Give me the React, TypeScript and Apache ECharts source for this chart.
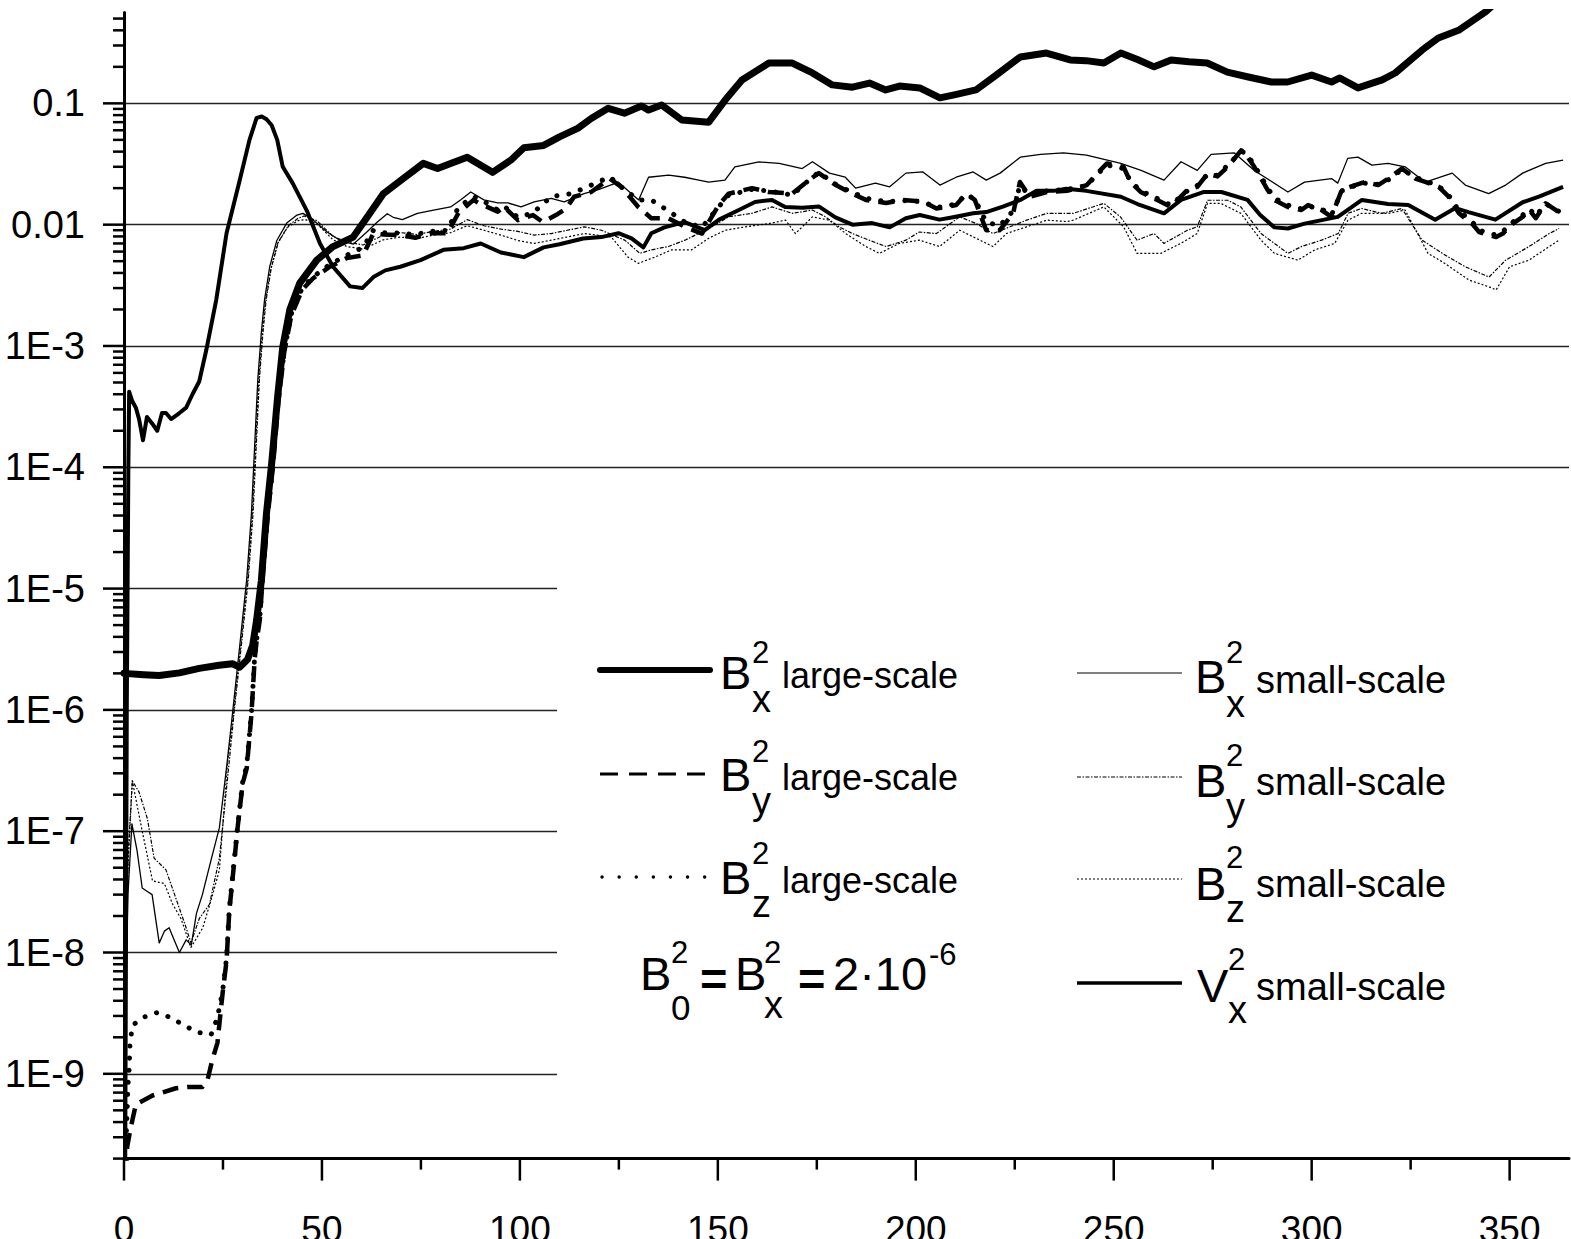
import React, { useEffect, useRef } from 'react';
import * as echarts from 'echarts';

const FONT = 'Liberation Sans, Arial, sans-serif';
const X_MAX = 365;
const Y_MIN = 2e-10;
const Y_MAX = 0.56;

const xMajorTicks = [0, 50, 100, 150, 200, 250, 300, 350];
const xMinorTicks = [25, 75, 125, 175, 225, 275, 325];
const yMajorTicks = [1e-9, 1e-8, 1e-7, 1e-6, 1e-5, 1e-4, 1e-3, 1e-2, 1e-1];
const yMinorMultiples = [2, 3, 4, 5, 6, 7, 8, 9];
const yDecades = [1e-10, 1e-9, 1e-8, 1e-7, 1e-6, 1e-5, 1e-4, 1e-3, 1e-2, 1e-1];
const yLabelText: Record<string, string> = { '-1': '0.1', '-2': '0.01' };

const bxLarge = [
  [0, 2.0e-6], [5, 1.95e-6], [8.9, 1.92e-6], [14, 2.02e-6], [19, 2.2e-6], [24, 2.33e-6], [27.4, 2.4e-6],
  [29.2, 2.25e-6], [31.2, 2.6e-6], [32.5, 3.4e-6], [33.5, 5.5e-6], [34.7, 1.17e-5], [36, 4.2e-5],
  [37.3, 1.07e-4], [38.8, 3.8e-4], [40.1, 9.8e-4], [41.9, 2.0e-3], [44.4, 3.3e-3], [48.7, 5.1e-3],
  [52.8, 6.6e-3], [57.9, 7.9e-3], [61.4, 0.0115], [65.5, 0.018], [69.8, 0.023], [75.6, 0.032],
  [79.2, 0.029], [82.5, 0.032], [86.7, 0.036], [90, 0.031], [93.1, 0.027], [97.7, 0.034], [101, 0.043],
  [106, 0.045], [110, 0.053], [114.7, 0.0625], [118, 0.075], [122.3, 0.091], [126.4, 0.083],
  [130.7, 0.095], [132.5, 0.088], [135.8, 0.097], [140.9, 0.073], [147.7, 0.07], [151.8, 0.106],
  [156.1, 0.156], [162.9, 0.215], [168.8, 0.215], [173.9, 0.178], [178.9, 0.142], [184, 0.136],
  [188.3, 0.147], [192.4, 0.129], [195.9, 0.139], [201, 0.134], [206.1, 0.111], [210, 0.118],
  [215.2, 0.129], [220.3, 0.171], [226.4, 0.241], [233, 0.26], [239, 0.228], [243, 0.225],
  [247.5, 0.215], [251.8, 0.26], [256, 0.23], [260.2, 0.2], [264.5, 0.228], [269, 0.22], [273.6, 0.215],
  [278.7, 0.181], [284, 0.165], [289.8, 0.15], [293.9, 0.15], [300, 0.171], [305, 0.15], [307.1, 0.162],
  [311.7, 0.134], [317.8, 0.156], [321.1, 0.178], [327.9, 0.275], [332, 0.346], [337.1, 0.4],
  [343.9, 0.567], [347, 0.7]
];

const byLarge = [
  [0.5, 1.5e-10], [0.8, 2.5e-10], [1.7, 3.6e-10], [3, 5.6e-10], [7.1, 6.6e-10], [13.1, 7.6e-10], [16, 7.8e-10],
  [19.8, 7.8e-10], [21.1, 8.9e-10], [22.3, 1.3e-9], [23.6, 1.8e-9], [24.9, 4.6e-9], [25.9, 8.5e-9],
  [26.6, 2.2e-8], [27.9, 5.8e-8], [28.7, 1.07e-7], [30, 2.5e-7], [31, 3.3e-7], [32.2, 9.3e-7],
  [33, 2.6e-6], [33.5, 3.7e-6], [34.3, 5.5e-6], [35, 1.2e-5], [36.3, 4e-5], [37.6, 1e-4], [39, 3.5e-4],
  [40.5, 9e-4], [42.3, 1.8e-3], [45, 2.9e-3], [47.7, 3.6e-3], [52, 4.5e-3], [56.3, 5.3e-3],
  [60.4, 5.6e-3], [63, 8.5e-3], [65.5, 8.3e-3], [69.8, 8.2e-3], [73.6, 7.8e-3], [77.4, 8.5e-3],
  [81.7, 8.5e-3], [84.5, 0.0125], [88.3, 0.016], [89.7, 0.015], [94.4, 0.0128], [96, 0.014],
  [99.5, 0.0109], [103.3, 0.012], [105.8, 0.0105], [109.1, 0.012], [111.7, 0.0136], [113.7, 0.017],
  [118, 0.0186], [122.7, 0.024], [125.6, 0.0205], [129.9, 0.014], [133.2, 0.0113], [137.5, 0.0113],
  [141.7, 0.0096], [146, 0.00845], [150.2, 0.0145], [152.7, 0.018], [158.6, 0.02], [162.9, 0.0186],
  [168.8, 0.018], [173, 0.0233], [175.5, 0.0266], [179.8, 0.0212], [183.1, 0.0186], [187.4, 0.016],
  [192.5, 0.0151], [196.7, 0.016], [201.8, 0.0155], [205.2, 0.0136], [210.2, 0.0145], [212.7, 0.018],
  [214.9, 0.016], [217.8, 0.009], [221.2, 0.009], [224.6, 0.0124], [226.3, 0.0225], [228.8, 0.017],
  [233.1, 0.0186], [238.2, 0.019], [243.2, 0.0212], [245.8, 0.0264], [248.3, 0.032], [252.5, 0.0299],
  [254.2, 0.0225], [256.8, 0.0186], [259.3, 0.017], [264.4, 0.014], [268.6, 0.0193], [271.1, 0.0205],
  [273.7, 0.0264], [276.2, 0.025], [278.8, 0.03], [282.2, 0.041], [283.4, 0.038], [285.5, 0.03],
  [288.9, 0.0193], [290.6, 0.016], [294, 0.014], [297.4, 0.0132], [299.1, 0.0145], [302.5, 0.0132],
  [305, 0.0116], [307.6, 0.0193], [311, 0.0212], [313.5, 0.0225], [316.8, 0.0212], [319.4, 0.024],
  [322.8, 0.029], [326.2, 0.024], [328.7, 0.0225], [332.1, 0.0205], [334.6, 0.017], [337.2, 0.0124],
  [340.5, 0.0102], [342.3, 0.0087], [346.6, 0.0079], [348.3, 0.00845], [350.8, 0.0102], [353.3, 0.0116],
  [355, 0.0132], [356.6, 0.0113], [359.1, 0.015], [361.7, 0.0132], [362.5, 0.0124]
];

const bzLarge = [
  [0.5, 2.7e-10], [0.8, 5e-10], [1.0, 8e-10], [1.3, 1.1e-9], [1.5, 1.7e-9], [2.1, 2.5e-9], [4.6, 2.9e-9],
  [8.4, 3.2e-9], [11.9, 2.9e-9], [15.2, 2.5e-9], [18.5, 2.2e-9], [22, 2.1e-9], [23.6, 2.9e-9],
  [24.9, 4.8e-9], [25.9, 9e-9], [26.6, 2.3e-8], [27.9, 6e-8], [28.7, 1.1e-7], [30, 2.6e-7],
  [31, 3.5e-7], [32.2, 9.6e-7], [33, 2.7e-6], [33.5, 3.8e-6], [34.3, 5.7e-6], [35, 1.25e-5],
  [36.3, 4.1e-5], [37.6, 1.05e-4], [39, 3.6e-4], [40.5, 9.2e-4], [42.3, 1.85e-3], [45, 3.0e-3],
  [47.7, 3.7e-3], [52, 4.7e-3], [56.3, 5.6e-3], [60.4, 6.5e-3], [63, 9e-3], [65.5, 8.6e-3],
  [69.8, 8.5e-3], [73.6, 8.3e-3], [77.4, 8.8e-3], [81.7, 9e-3], [84.5, 0.014], [88.3, 0.017],
  [91, 0.0155], [94.4, 0.0132], [96, 0.0142], [99.5, 0.0115], [103.3, 0.0125], [107.9, 0.017],
  [112.9, 0.018], [116.3, 0.02], [122.7, 0.0248], [125.6, 0.0205], [129.9, 0.016], [133.2, 0.016],
  [137.5, 0.013], [141.7, 0.0105], [146, 0.0095], [150.2, 0.014], [152.7, 0.0175], [158.6, 0.0195],
  [162.9, 0.019], [168.8, 0.0175], [173, 0.0233], [175.5, 0.027], [179.8, 0.0215], [183.1, 0.019],
  [187.4, 0.0165], [192.5, 0.0155], [196.7, 0.0158], [201.8, 0.0155], [205.2, 0.0138], [210.2, 0.0148],
  [212.7, 0.0178], [214.9, 0.0162], [217.8, 0.0105], [221.2, 0.0098], [224.6, 0.013], [226.3, 0.021],
  [228.8, 0.0175], [233.1, 0.019], [238.2, 0.0195], [243.2, 0.021], [245.8, 0.026], [248.3, 0.031],
  [252.5, 0.029], [254.2, 0.023], [256.8, 0.019], [259.3, 0.0175], [264.4, 0.0145], [268.6, 0.019],
  [271.1, 0.021], [273.7, 0.026], [276.2, 0.0255], [278.8, 0.031], [282.2, 0.04], [283.4, 0.039],
  [285.5, 0.031], [288.9, 0.02], [290.6, 0.0165], [294, 0.0145], [297.4, 0.0135], [299.1, 0.0142],
  [302.5, 0.0135], [305, 0.012], [307.6, 0.019], [311, 0.021], [313.5, 0.022], [316.8, 0.0215],
  [319.4, 0.0235], [322.8, 0.0285], [326.2, 0.0245], [328.7, 0.023], [332.1, 0.0208], [334.6, 0.0175],
  [337.2, 0.013], [340.5, 0.0106], [342.3, 0.009], [346.6, 0.0082], [348.3, 0.0088], [350.8, 0.0105],
  [353.3, 0.012], [355, 0.0135], [356.6, 0.0118], [359.1, 0.0148], [361.7, 0.0135], [362.5, 0.0128]
];

const bxSmall = [
  [0.3, 3e-9], [1, 3e-8], [2, 1.15e-7], [3.3, 6.9e-8], [4.6, 3.4e-8], [5.8, 3.2e-8], [7.1, 3.0e-8],
  [8.1, 1.8e-8], [8.9, 1.2e-8], [10.2, 1.5e-8], [11.4, 1.6e-8], [12.7, 1.26e-8], [14, 1.0e-8],
  [15.7, 1.27e-8], [17, 1.15e-8], [18.3, 2.1e-8], [19.8, 3.0e-8], [22, 5.8e-8], [24.1, 1.07e-7],
  [26.1, 3.8e-7], [27.4, 9.3e-7], [29.2, 3.3e-6], [31, 1.2e-5], [32.2, 4.2e-5], [33, 1.5e-4],
  [33.8, 5.3e-4], [34.7, 1.3e-3], [35.5, 2.4e-3], [36.8, 4.5e-3], [38.6, 7.4e-3], [41.1, 0.0103],
  [43.7, 0.012], [45.2, 0.0124], [47.7, 0.011], [51.3, 8.7e-3], [54.6, 7.4e-3], [57.9, 6.9e-3],
  [61, 8.5e-3], [64, 0.0105], [66.5, 0.0123], [68, 0.0115], [70.3, 0.011], [74.1, 0.0124],
  [78.2, 0.0132], [82.5, 0.014], [85, 0.016], [87.6, 0.0186], [90.9, 0.016], [94.4, 0.0151],
  [97, 0.0151], [100.3, 0.014], [103.6, 0.0154], [107.9, 0.0165], [111.2, 0.0154], [116.2, 0.018],
  [120, 0.0195], [124.9, 0.0224], [130, 0.016], [132.5, 0.0246], [137.6, 0.0256], [141.6, 0.0246],
  [145.2, 0.0233], [147.7, 0.0224], [151.8, 0.0233], [154.3, 0.03], [160.4, 0.0329], [165.5, 0.032],
  [171.3, 0.029], [173.9, 0.033], [178.2, 0.0266], [182.2, 0.0246], [184.8, 0.02], [189.8, 0.022],
  [193.4, 0.0205], [197.5, 0.0266], [201.8, 0.0272], [206.1, 0.0212], [210.2, 0.0246], [214.5, 0.0272],
  [217.8, 0.0233], [221.3, 0.0266], [226.4, 0.036], [231.5, 0.038], [237.3, 0.039], [243.1, 0.0375],
  [251.8, 0.032], [256.9, 0.028], [262.7, 0.0233], [267, 0.033], [271.1, 0.028], [274.6, 0.038],
  [280.5, 0.039], [285.5, 0.028], [294, 0.0186], [298.2, 0.0224], [305, 0.024], [306.6, 0.022],
  [309.1, 0.0352], [311.7, 0.036], [315.2, 0.031], [319.3, 0.032], [323.6, 0.03], [328.7, 0.0224],
  [335.5, 0.0266], [338.8, 0.0212], [344.7, 0.018], [349, 0.0212], [353.3, 0.0266], [359.1, 0.032],
  [363.5, 0.034]
];

const bySmall = [
  [0.3, 3e-9], [1, 6e-8], [2.1, 2.6e-7], [3.8, 2.1e-7], [5.9, 1.27e-7], [7.6, 6.0e-8], [10.6, 4.8e-8],
  [13.1, 2.8e-8], [15.7, 1.6e-8], [16.9, 1.2e-8], [19, 1.9e-8], [21.6, 2.5e-8], [24.1, 6e-8],
  [26.6, 3.8e-7], [27.8, 9.5e-7], [29.6, 3.3e-6], [31.4, 1.2e-5], [32.6, 4.2e-5], [33.4, 1.5e-4],
  [34.2, 5.3e-4], [35.1, 1.3e-3], [35.9, 2.4e-3], [37.2, 4.4e-3], [39, 7.2e-3], [41.5, 0.0098],
  [44, 0.0113], [45.5, 0.0118], [48.7, 0.0108], [52.8, 0.008], [56.3, 0.0072], [60.4, 0.0068],
  [65.5, 0.0082], [69.8, 0.0086], [74, 0.0083], [78.2, 0.0088], [82.5, 0.0092], [86.7, 0.011],
  [90.9, 0.0098], [95.2, 0.0092], [99.5, 0.0088], [103.6, 0.0082], [107.9, 0.00845], [116.3, 0.0096],
  [120.6, 0.009], [126.5, 0.00745], [130.3, 0.0058], [133.2, 0.0062], [137.5, 0.0066], [141.7, 0.00745],
  [145.1, 0.00845], [148.5, 0.0096], [152.7, 0.0116], [158.6, 0.0124], [163.7, 0.014], [168.8, 0.0124],
  [173.9, 0.0132], [177.2, 0.0116], [180.6, 0.0096], [184, 0.00845], [188.2, 0.00745], [192.5, 0.0066],
  [197.5, 0.00745], [200.9, 0.0087], [205.2, 0.00845], [211.1, 0.0116], [215.3, 0.0102], [219.5, 0.00845],
  [223.8, 0.0096], [228, 0.0109], [233.1, 0.0124], [239.8, 0.0124], [247.5, 0.015], [251.7, 0.0116],
  [255.9, 0.00745], [260.2, 0.00845], [262.7, 0.007], [268.6, 0.009], [271.1, 0.0096], [273.7, 0.0159],
  [278.8, 0.0159], [282.1, 0.014], [287.2, 0.00845], [294, 0.0058], [297.4, 0.0066], [302.5, 0.00745],
  [306.7, 0.00845], [309.2, 0.0124], [312.6, 0.0136], [317.7, 0.0124], [322.8, 0.0136], [327.9, 0.00745],
  [333, 0.0058], [338.8, 0.0045], [344.8, 0.0037], [349, 0.0051], [354.9, 0.0066], [360, 0.00845],
  [362.5, 0.0093]
];

const bzSmall = [
  [0.3, 2e-9], [1, 5e-8], [2.1, 2.6e-7], [4.6, 1.0e-7], [7.2, 3.9e-8], [10.2, 3.7e-8], [12.3, 2.5e-8],
  [14.4, 1.9e-8], [16.9, 1.1e-8], [19.9, 1.6e-8], [22.4, 3.0e-8], [24.1, 4.8e-8], [26.2, 3.8e-7],
  [27.6, 9.0e-7], [29.4, 3.2e-6], [31.2, 1.15e-5], [32.4, 4.0e-5], [33.2, 1.4e-4], [34, 5.0e-4],
  [34.9, 1.2e-3], [35.7, 2.3e-3], [37, 4.2e-3], [38.8, 7.0e-3], [41.3, 0.0095], [44, 0.0108],
  [45.8, 0.011], [48.7, 0.0102], [52.8, 0.0075], [56.3, 0.0066], [60.4, 0.0063], [65.5, 0.0075],
  [69.8, 0.0079], [74, 0.0077], [78.2, 0.0082], [82.5, 0.0086], [86.7, 0.0098], [90.9, 0.009],
  [95.2, 0.0082], [99.5, 0.0074], [103.6, 0.007], [107.9, 0.00745], [116.3, 0.00845], [123.1, 0.0079],
  [127.3, 0.0054], [129.9, 0.0048], [134.1, 0.0054], [138.3, 0.0062], [143.4, 0.0062], [147.6, 0.0077],
  [151.9, 0.009], [157, 0.0096], [162.9, 0.0102], [167.1, 0.0109], [169.6, 0.00845], [173.9, 0.0116],
  [178.1, 0.0109], [182.3, 0.00845], [187.4, 0.0066], [190.8, 0.0058], [195.8, 0.007], [200.9, 0.00745],
  [206, 0.0066], [211.1, 0.009], [216.2, 0.00745], [219.5, 0.0066], [222.9, 0.00845], [228, 0.0096],
  [233.1, 0.0109], [238.2, 0.0106], [239.8, 0.0109], [247.5, 0.014], [252.5, 0.0096], [255.9, 0.0058],
  [261.9, 0.0058], [266.9, 0.007], [271.1, 0.00845], [273.7, 0.015], [277, 0.015], [282.1, 0.0124],
  [287.2, 0.00745], [290.6, 0.0058], [296.5, 0.0051], [300.8, 0.0062], [305.8, 0.007], [309.2, 0.0109],
  [312.6, 0.0124], [319.4, 0.0124], [323.6, 0.0132], [329.4, 0.0058], [333.6, 0.0048], [339.7, 0.0035],
  [344.8, 0.00307], [346.6, 0.0029], [350, 0.0045], [354.9, 0.0051], [360, 0.0066], [362.5, 0.00745]
];

const vxSmall = [
  [0.3, 1.5e-10], [0.7, 1e-6], [1.1, 1e-4], [1.3, 4.2e-4], [2.1, 3.5e-4], [3.0, 3.1e-4], [3.8, 2.5e-4],
  [4.8, 1.67e-4], [5.8, 2.6e-4], [7.1, 2.3e-4], [8.4, 2.0e-4], [9.6, 2.8e-4], [10.6, 2.8e-4],
  [11.9, 2.5e-4], [14, 2.8e-4], [15.7, 3.1e-4], [17.3, 4.0e-4], [19, 5.1e-4], [20.8, 9.3e-4],
  [23.3, 2.4e-3], [25.9, 8.5e-3], [29.2, 0.023], [31.7, 0.05], [33.5, 0.076], [34.8, 0.078],
  [36, 0.074], [37.3, 0.066], [38.7, 0.05], [40.1, 0.03], [42.6, 0.022], [46.2, 0.013], [49.5, 7.0e-3],
  [52.8, 4.5e-3], [57.1, 3.1e-3], [60.2, 3.0e-3], [63, 3.7e-3], [66, 4.2e-3], [69.8, 4.5e-3],
  [74.9, 5.1e-3], [80.7, 6.2e-3], [85.8, 6.4e-3], [90.1, 7.0e-3], [95.2, 5.9e-3], [101, 5.4e-3],
  [106, 6.5e-3], [110, 6.9e-3], [116, 7.7e-3], [120.6, 7.9e-3], [124.9, 8.5e-3], [128.2, 7.7e-3],
  [131.2, 6.5e-3], [133.2, 8.5e-3], [136.5, 9.5e-3], [141.6, 0.0105], [146.7, 9.0e-3], [150.3, 0.011],
  [155.3, 0.0132], [159.4, 0.0154], [163.7, 0.016], [167, 0.014], [171.3, 0.0138], [175.6, 0.0141],
  [179.7, 0.0115], [184, 0.01], [189, 0.0103], [193.4, 9.5e-3], [197.5, 0.0113], [201, 0.012],
  [206, 0.011], [209.4, 0.0115], [214.5, 0.0124], [217.8, 0.0127], [222, 0.0141], [226.4, 0.016],
  [230.5, 0.019], [234.8, 0.019], [238, 0.0198], [243.1, 0.019], [251.8, 0.017], [256, 0.0148],
  [262.7, 0.0124], [267, 0.016], [272.8, 0.0186], [277.2, 0.0186], [283.8, 0.016], [287, 0.012],
  [290.6, 9.5e-3], [294, 9.3e-3], [298.2, 0.0102], [306.6, 0.0116], [312.7, 0.016], [319.3, 0.0148],
  [324.4, 0.0145], [331.2, 0.011], [336.3, 0.0137], [339.6, 0.0127], [346.4, 0.011], [353.3, 0.0153],
  [357.4, 0.017], [363.5, 0.0205]
];

function buildTickData() {
  const xt: number[][] = [];
  xMajorTicks.forEach((v) => xt.push([v, Y_MIN, 22]));
  xMinorTicks.forEach((v) => xt.push([v, Y_MIN, 11]));
  const yt: number[][] = [];
  yMajorTicks.forEach((v) => yt.push([0, v, 21]));
  yDecades.forEach((d) => {
    yMinorMultiples.forEach((m) => {
      const v = d * m;
      if (v >= Y_MIN * 0.999 && v <= Y_MAX) yt.push([0, v, 11]);
    });
  });
  return { xt, yt };
}

function txt(text: string, x: number, baseline: number, size: number, weight = 'normal') {
  return {
    type: 'text',
    x,
    y: baseline - 0.35 * size,
    z: 10,
    silent: true,
    style: {
      text,
      fill: '#000',
      font: `${weight} ${size}px ${FONT}`,
      fontSize: size,
      fontFamily: FONT,
      fontWeight: weight,
      align: 'left',
      verticalAlign: 'middle',
    },
  };
}

function seg(x1: number, x2: number, y: number, width: number, dash: any, cap = 'butt') {
  return {
    type: 'line',
    z: 10,
    silent: true,
    shape: { x1, y1: y, x2, y2: y },
    style: { stroke: '#000', lineWidth: width, lineDash: dash, lineCap: cap },
  };
}

export default function App() {
  const ref = useRef<HTMLDivElement>(null);
  useEffect(() => {
    const chart = echarts.init(ref.current!, undefined, { renderer: 'svg' });
    const { xt, yt } = buildTickData();

    const tickSeries = (data: number[][], dir: 'x' | 'y') => ({
      type: 'custom',
      coordinateSystem: 'cartesian2d',
      clip: false,
      silent: true,
      z: 3,
      data,
      renderItem: (_p: any, api: any) => {
        const pt = api.coord([api.value(0), api.value(1)]);
        const len = api.value(2);
        const shape = dir === 'x'
          ? { x1: pt[0], y1: pt[1], x2: pt[0], y2: pt[1] + len }
          : { x1: pt[0] - len, y1: pt[1], x2: pt[0], y2: pt[1] };
        return { type: 'line', shape, style: { stroke: '#000', lineWidth: 2.5 } };
      },
    });

    const lineSeries = (name: string, data: number[][], width: number, type: any, cap = 'butt') => ({
      name,
      type: 'line',
      data,
      showSymbol: false,
      symbol: 'none',
      smooth: false,
      silent: true,
      lineStyle: { color: '#000', width, type, cap, join: 'round' },
    });

    const L = 600, L2 = 710, R = 1077, R2 = 1182;
    const graphics: any[] = [
      { type: 'rect', z: 1, silent: true, shape: { x: 557, y: 500, width: 1020, height: 650 }, style: { fill: '#fff' } },
      // row 1
      seg(L, L2, 670, 6, null, 'round'),
      txt('B', 720, 689, 47), txt('2', 752, 663, 31), txt('x', 752, 712, 38), txt('large-scale', 782, 688, 36),
      seg(R, R2, 673, 1.2, null),
      txt('B', 1195, 693, 47), txt('2', 1226, 663, 31), txt('x', 1226, 717, 38), txt('small-scale', 1256, 693, 38),
      // row 2
      seg(L, L2, 774, 3.2, [18, 11]),
      txt('B', 720, 791, 47), txt('2', 752, 762, 31), txt('y', 752, 814, 38), txt('large-scale', 782, 790, 36),
      seg(R, R2, 777, 1.2, [4, 1.5, 1.5, 1.5]),
      txt('B', 1195, 797, 47), txt('2', 1226, 766, 31), txt('y', 1226, 820, 38), txt('small-scale', 1256, 795, 38),
      // row 3
      seg(L + 2, L2, 877, 3.4, [0.1, 17], 'round'),
      txt('B', 720, 894, 47), txt('2', 752, 864, 31), txt('z', 752, 917, 38), txt('large-scale', 782, 893, 36),
      seg(R, R2, 879, 1.2, [2, 2]),
      txt('B', 1195, 900, 47), txt('2', 1226, 868, 31), txt('z', 1226, 922, 38), txt('small-scale', 1256, 897, 38),
      // row 4
      txt('B', 640, 990, 47), txt('2', 671, 963, 31), txt('0', 671, 1020, 35),
      txt('=', 700, 995, 47, 'bold'),
      txt('B', 735, 990, 47), txt('2', 764, 963, 31), txt('x', 764, 1018, 38),
      txt('=', 798, 995, 47, 'bold'),
      txt('2\u00b710', 833, 990, 47), txt('-6', 929, 965, 31),
      seg(R, R2, 983, 3.4, null),
      txt('V', 1197, 1002, 47), txt('2', 1228, 970, 31), txt('x', 1228, 1023, 38), txt('small-scale', 1256, 1000, 38),
    ];

    const option: any = {
      animation: false,
      backgroundColor: '#fff',
      grid: { left: 124, top: 12.6, width: 1445, height: 1146, containLabel: false, outerBoundsMode: 'none' },
      xAxis: {
        type: 'value',
        min: 0,
        max: X_MAX,
        interval: 50,
        axisLine: { show: true, onZero: false, lineStyle: { color: '#000', width: 3 } },
        axisTick: { show: false },
        splitLine: { show: false },
        axisLabel: {
          color: '#000', fontSize: 37, fontFamily: FONT, margin: 52,
          formatter: (v: number) => (Math.abs(v % 50) < 1e-9 ? String(v) : ''),
        },
      },
      yAxis: {
        type: 'log',
        logBase: 10,
        min: Y_MIN,
        max: Y_MAX,
        axisLine: { show: true, onZero: false, lineStyle: { color: '#000', width: 3 } },
        axisTick: { show: false },
        splitLine: { show: true, showMinLine: false, showMaxLine: false, lineStyle: { color: '#222', width: 1.3 } },
        axisLabel: {
          color: '#000', fontSize: 38, fontFamily: FONT, margin: 39,
          showMinLabel: false, showMaxLabel: false,
          formatter: (v: number) => {
            const lg = Math.log10(v);
            const e = Math.round(lg);
            if (Math.abs(lg - e) > 1e-6) return '';
            return yLabelText[String(e)] || `1E${e}`;
          },
        },
      },
      series: [
        lineSeries('Bx2 small-scale', bxSmall, 1.3, 'solid'),
        lineSeries('By2 small-scale', bySmall, 1.2, [4, 1.5, 1.5, 1.5]),
        lineSeries('Bz2 small-scale', bzSmall, 1.2, [2, 2]),
        lineSeries('By2 large-scale', byLarge, 4.5, [16, 9]),
        lineSeries('Bz2 large-scale', bzLarge, 5, [0.1, 12], 'round'),
        lineSeries('Vx2 small-scale', vxSmall, 4, 'solid'),
        lineSeries('Bx2 large-scale', bxLarge, 7, 'solid', 'round'),
        tickSeries(xt, 'x'),
        tickSeries(yt, 'y'),
      ],
      graphic: { elements: graphics },
    };
    chart.setOption(option);
    return () => chart.dispose();
  }, []);
  return (
    <div
      ref={ref}
      style={{ position: 'absolute', left: 0, top: 0, width: 1571, height: 1239, background: '#fff' }}
    />
  );
}
